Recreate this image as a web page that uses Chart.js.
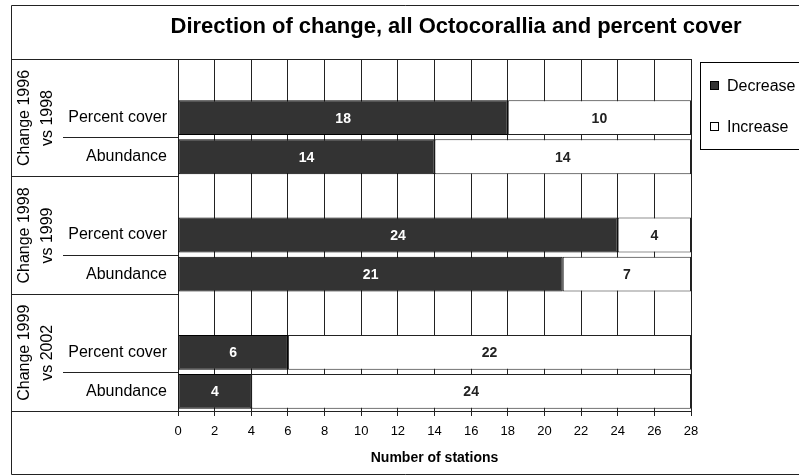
<!DOCTYPE html>
<html>
<head>
<meta charset="utf-8">
<title>Direction of change, all Octocorallia and percent cover</title>
<script src="https://cdn.jsdelivr.net/npm/chart.js@4.4.0/dist/chart.umd.min.js"></script>
<style>
  html, body { margin: 0; padding: 0; background: #fff; }
  #wrap { width: 799px; height: 475px; }
</style>
</head>
<body>
<div id="wrap"><canvas id="changeChart" width="799" height="475"></canvas></div>
<script>
const chartTitle = 'Direction of change, all Octocorallia and percent cover';
const groups = [['Change 1996', 'vs 1998'], ['Change 1998', 'vs 1999'], ['Change 1999', 'vs 2002']];
const measures = ['Percent cover', 'Abundance'];
const decrease = [18, 14, 24, 21, 6, 4];
const increase = [10, 14, 4, 7, 22, 24];
const xMin = 0, xMax = 28, xStep = 2;

const FONT = '"Liberation Sans", Arial, sans-serif';

// each group gets an empty row on top, then one row per measure
const labels = [], decData = [], incData = [];
groups.forEach(function(g, gi) {
	labels.push(''); decData.push(null); incData.push(null);
	measures.forEach(function(m, mi) {
		labels.push(m);
		decData.push(decrease[gi * measures.length + mi]);
		incData.push(increase[gi * measures.length + mi]);
	});
});
const rowsPerGroup = measures.length + 1;

const decor = {
	id: 'decor',
	beforeDatasetsDraw: function(chart) {
		const ctx = chart.ctx, a = chart.chartArea;
		ctx.save();
		ctx.strokeStyle = '#222';
		ctx.lineWidth = 1;
		ctx.beginPath();
		ctx.moveTo(a.left, Math.round(a.top) + 0.5);
		ctx.lineTo(a.right, Math.round(a.top) + 0.5);
		ctx.stroke();
		ctx.restore();
	},
	afterDatasetsDraw: function(chart) {
		const ctx = chart.ctx;
		ctx.save();
		ctx.font = 'bold 14px ' + FONT;
		ctx.textAlign = 'center';
		ctx.textBaseline = 'middle';
		chart.data.datasets.forEach(function(ds, d) {
			chart.getDatasetMeta(d).data.forEach(function(bar, i) {
				if (ds.data[i] == null) return;
				ctx.fillStyle = d === 0 ? '#fff' : '#222';
				ctx.fillText(ds.data[i], (bar.x + bar.base) / 2, bar.y + 1);
			});
		});
		ctx.restore();
	},
	afterDraw: function(chart) {
		const ctx = chart.ctx, a = chart.chartArea, y = chart.scales.y;
		const half = (y.getPixelForValue(1) - y.getPixelForValue(0)) / 2;
		const edge = function(i) { return Math.round(y.getPixelForValue(i) - half) + 0.5; };
		ctx.save();
		ctx.strokeStyle = '#222';
		ctx.lineWidth = 1;

		// outer frame
		ctx.beginPath();
		ctx.moveTo(799, 5.5); ctx.lineTo(11.5, 5.5); ctx.lineTo(11.5, 474.5); ctx.lineTo(799, 474.5);
		ctx.stroke();

		// row separators in the label area
		for (let i = 0; i <= labels.length; i++) {
			const py = i === labels.length ? Math.round(a.bottom) + 0.5 : edge(i);
			const x0 = (i % rowsPerGroup === 0) ? 11.5 : 63;
			if (i % rowsPerGroup === 1) continue;
			ctx.beginPath();
			ctx.moveTo(x0, py);
			ctx.lineTo(a.left, py);
			ctx.stroke();
		}

		// group labels, rotated
		ctx.fillStyle = '#000';
		ctx.font = '16px ' + FONT;
		ctx.textAlign = 'center';
		ctx.textBaseline = 'alphabetic';
		groups.forEach(function(g, gi) {
			const top = edge(gi * rowsPerGroup);
			const bot = gi === groups.length - 1 ? a.bottom : edge((gi + 1) * rowsPerGroup);
			const cy = (top + bot) / 2;
			g.forEach(function(line, li) {
				ctx.save();
				ctx.translate(29 + li * 23, cy);
				ctx.rotate(-Math.PI / 2);
				ctx.fillText(line, 0, 0);
				ctx.restore();
			});
		});

		// legend
		ctx.strokeStyle = '#000';
		ctx.strokeRect(700.5, 62.5, 130, 87);
		ctx.font = '16px ' + FONT;
		ctx.textAlign = 'left';
		ctx.textBaseline = 'middle';
		chart.data.datasets.forEach(function(ds, d) {
			const cy = 86 + d * 41;
			ctx.fillStyle = ds.backgroundColor;
			ctx.fillRect(710.5, cy - 4.5, 8, 8);
			ctx.strokeStyle = '#000';
			ctx.strokeRect(710.5, cy - 4.5, 8, 8);
			ctx.fillStyle = '#000';
			ctx.fillText(ds.label, 727, cy + 1);
		});

		// title
		ctx.font = 'bold 22px ' + FONT;
		ctx.textAlign = 'center';
		ctx.fillText(chartTitle, 456, 27);
		ctx.restore();
	}
};

new Chart(document.getElementById('changeChart'), {
	type: 'bar',
	data: {
		labels: labels,
		datasets: [{
			label: 'Decrease',
			data: decData,
			backgroundColor: '#333333',
			borderColor: '#000',
			borderWidth: 1,
			borderSkipped: false
		}, {
			label: 'Increase',
			data: incData,
			backgroundColor: '#ffffff',
			borderColor: '#222',
			borderWidth: 1,
			borderSkipped: false
		}]
	},
	options: {
		indexAxis: 'y',
		responsive: false,
		animation: false,
		barPercentage: 0.89,
		categoryPercentage: 1,
		layout: { padding: { top: 59, right: 108, bottom: 0, left: 0 } },
		plugins: {
			legend: { display: false },
			title: { display: false },
			tooltip: { enabled: false }
		},
		scales: {
			x: {
				stacked: true,
				min: xMin,
				max: xMax,
				afterFit: function(s) { s.height = 64; },
				ticks: { stepSize: xStep, color: '#000', padding: 8, font: { family: FONT, size: 13 } },
				grid: { color: '#222', tickLength: 5 },
				border: { color: '#222' },
				title: { display: true, text: 'Number of stations', color: '#000', font: { family: FONT, size: 14, weight: 'bold' }, padding: { top: 0, bottom: 8 } }
			},
			y: {
				stacked: true,
				afterFit: function(s) { s.width = 178; },
				ticks: { color: '#000', padding: 11, autoSkip: false, font: { family: FONT, size: 16 } },
				grid: { display: false, drawTicks: false },
				border: { color: '#222' }
			}
		}
	},
	plugins: [decor]
});
</script>
</body>
</html>
